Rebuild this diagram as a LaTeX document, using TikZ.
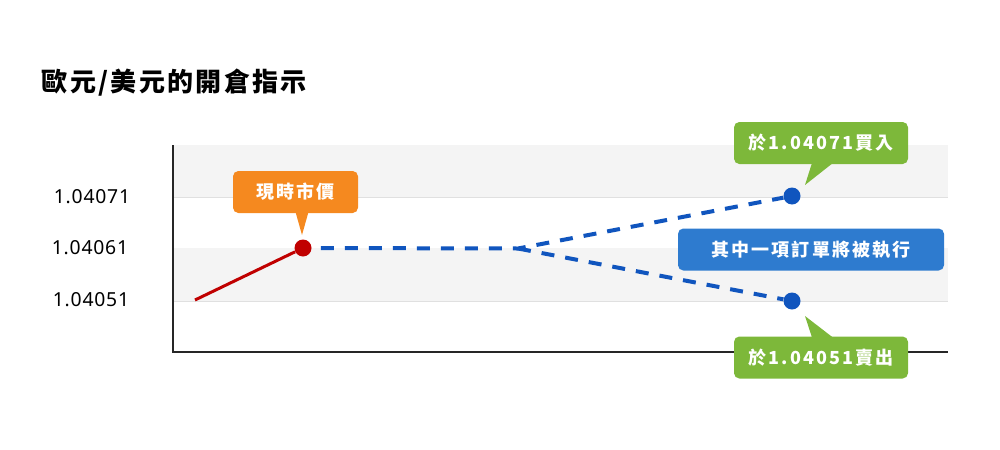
\documentclass[tikz,border=0pt]{standalone}
\usepackage{fontspec}
\setmainfont{Noto Sans CJK TC}
\newfontfamily\titlefont{Noto Sans CJK TC}[LetterSpace=9]
\newfontfamily\tagfont{Noto Sans CJK TC}[LetterSpace=12]
\newfontfamily\tickfont{Noto Sans}[LetterSpace=4]
\definecolor{bandgrey}{HTML}{F4F4F4}
\definecolor{gridgrey}{HTML}{E0E0E0}
\definecolor{pricered}{HTML}{C00000}
\definecolor{pendblue}{HTML}{1055BE}
\definecolor{tagorange}{HTML}{F5891F}
\definecolor{taggreen}{HTML}{7DB83A}
\definecolor{tagblue}{HTML}{2E7BCF}
\begin{document}
\begin{tikzpicture}[x=0.75pt,y=-0.75pt,
  tag/.style={rounded corners=4pt, text=white, inner sep=0pt, minimum height=31.5pt,
    font=\tagfont\bfseries\fontsize{13.5}{16}\selectfont},
  dot/.style={circle, fill, inner sep=0pt, minimum size=12.75pt},
  tick/.style={font=\tickfont\fontsize{14.5}{17}\selectfont},
  pending/.style={pendblue, line width=3pt, dash pattern=on 9.75pt off 8.25pt}]
\useasboundingbox (0,0) rectangle (1000,450);
\fill[bandgrey] (173,145) rectangle (948,197);
\fill[bandgrey] (173,248) rectangle (948,301);
\draw[gridgrey, line width=0.75pt] (173,197) -- (948,197);
\draw[gridgrey, line width=0.75pt] (173,301) -- (948,301);
\node[anchor=west, font=\titlefont\bfseries\fontsize{19.5}{23}\selectfont] (title) at (37,83){歐元/美元的開倉指示};
\node[tick] (tick71) at (92,197){1.04071};
\node[tick] (tick61) at (90,248){1.04061};
\node[tick] (tick51) at (91,300){1.04051};
\coordinate (origin) at (173,352);
\coordinate (ytop) at (173,145);
\coordinate (xend) at (948,352);
\draw[line width=1.5pt, black!85] (ytop) -- (origin) -- (xend);
\coordinate (start) at (195,300);
\node[dot, pricered] (now) at (303,248){};
\draw[pricered, line width=2.25pt] (start) -- (now);
\coordinate (fork) at (518,248.5);
\node[dot, pendblue] (buy) at (792,196){};
\node[dot, pendblue] (sell) at (792,301){};
\draw[pending, shorten <=6.75pt] (now) -- (fork) -- (buy);
\draw[pending] (fork) -- (sell);
\node[tag, fill=tagorange, minimum width=93.75pt] (price) at (295.5,192){現時市價};
\coordinate (pricetip) at (302,235);
\fill[tagorange] ([yshift=1pt]price.south) -- (pricetip) -- ([xshift=9.75pt,yshift=1pt]price.south) -- cycle;
\node[tag, fill=taggreen, minimum width=130.5pt] (buytag) at (821,143){於1.04071買入};
\coordinate (buytip) at (805,185);
\fill[taggreen] ([xshift=-6.75pt,yshift=1pt]buytag.south) -- (buytip) -- ([xshift=9pt,yshift=1pt]buytag.south) -- cycle;
\node[tag, fill=taggreen, minimum width=130.5pt] (selltag) at (821,357.5){於1.04051賣出};
\coordinate (selltip) at (805,316);
\fill[taggreen] ([xshift=-6.75pt,yshift=-1pt]selltag.north) -- (selltip) -- ([xshift=9pt,yshift=-1pt]selltag.north) -- cycle;
\node[tag, fill=tagblue, minimum width=199.5pt] (either) at (811,249.5){其中一項訂單將被執行};
\end{tikzpicture}
\end{document}
